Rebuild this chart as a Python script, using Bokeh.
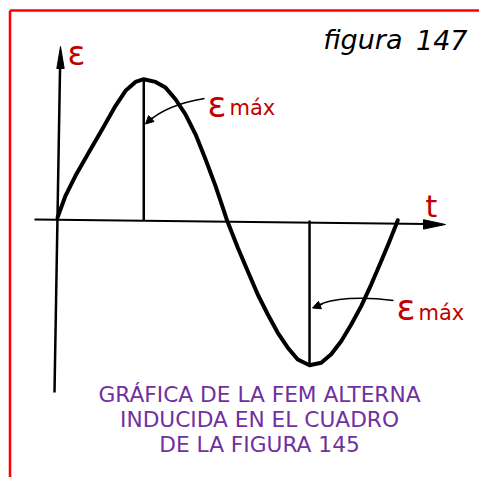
import numpy as np
from bokeh.plotting import figure
from bokeh.models import Range1d, Label, Arrow, NormalHead
from bokeh.embed import file_html
from bokeh.resources import INLINE

# ---- data: time in electrical degrees, emf as fraction of its maximum
t_deg = [0.0, 8.4, 18.9, 32.9, 47.1, 61.1, 71.6, 82.1, 90.8, 103.2, 113.7, 124.2,
         134.7, 145.3, 155.8, 166.3, 173.4, 178.6, 189.8, 200.3, 210.8, 221.4,
         231.9, 242.4, 252.9, 265.3, 277.6, 288.1, 298.6, 309.2, 319.7, 330.2,
         340.7, 349.5, 356.5, 358.2]
emf = [0.02, 0.174, 0.315, 0.479, 0.643, 0.808, 0.913, 0.976, 0.995, 0.976, 0.936, 0.854,
       0.748, 0.607, 0.431, 0.244, 0.103, -0.002, -0.192, -0.357, -0.521, -0.662,
       -0.791, -0.896, -0.979, -1.019, -1.002, -0.942, -0.850, -0.732, -0.603, -0.451,
       -0.287, -0.146, -0.028, 0.002]

title_word = "figura"
title_number = "147"
y_label = "ε"
x_label = "t"
max_symbol = "ε"
max_sub = "máx"
caption = ["GRÁFICA DE LA FEM ALTERNA", "INDUCIDA EN EL CUADRO", "DE LA FIGURA 145"]

# ---- layout (page pixels; the figure sits at the page origin)
W, H = 479, 477
M = 0
X0, Y0 = 57, 220      # page position of the origin
SX, SY = 0.95, 142    # px per degree, px per unit emf
TEXT_DY = -9          # baseline correction for labels

def tx(X):
    return (X - X0) / SX

def ey(Y):
    return (Y0 - Y) / SY

RED = "#C00000"
PURPLE = "#7030A0"
FONT = "DejaVu Sans"

p = figure(width=W, height=H, x_range=Range1d(tx(M), tx(M + W)),
           y_range=Range1d(ey(M + H), ey(M)), output_backend="svg",
           toolbar_location=None, min_border=0, x_axis_type=None, y_axis_type=None,
           outline_line_color=None, background_fill_color="white",
           border_fill_color="white")
p.xgrid.visible = False
p.ygrid.visible = False

# red frame (left and top)
p.line([tx(9.5), tx(9.5)], [ey(10), ey(480)], color="#FF0000", line_width=2.5)
p.line([tx(9.5), tx(480)], [ey(10), ey(10)], color="#FF0000", line_width=2.5)

# axes
p.line([tx(34), tx(426)], [ey(219), ey(223.5)], color="black", line_width=2)
p.patch([tx(445), tx(423), tx(423)], [ey(224), ey(219.2), ey(228.6)], color="black")
p.line([tx(54), tx(59.6)], [ey(392), ey(64)], color="black", line_width=2.5)
p.patch([tx(60), tx(56.3), tx(63.7)], [ey(46), ey(68), ey(68)], color="black")

# curve
p.line(t_deg, emf, color="black", line_width=4, line_join="round", line_cap="round")

# vertical lines at maximum and minimum
i_max = int(np.argmax(emf))
i_min = int(np.argmin(emf))
p.segment(x0=[t_deg[i_max], t_deg[i_min]], y0=[0, 0],
          x1=[t_deg[i_max], t_deg[i_min]], y1=[emf[i_max], emf[i_min]],
          color="black", line_width=2.5)

# annotation arrows
p.bezier(x0=[tx(204), tx(393)], y0=[ey(98), ey(300)],
         x1=[tx(148), tx(316)], y1=[ey(121), ey(305.5)],
         cx0=[tx(180), tx(362)], cy0=[ey(102), ey(296)],
         cx1=[tx(160), tx(332)], cy1=[ey(110), ey(297)],
         line_color="black", line_width=1.6)
for (xs, ys, xe, ye) in [(152, 117, 145, 123.5), (322, 303.5, 312, 307.5)]:
    p.add_layout(Arrow(end=NormalHead(size=8, fill_color="black", line_color="black", line_width=1),
                       x_start=tx(xs), y_start=ey(ys), x_end=tx(xe), y_end=ey(ye),
                       line_width=1.5, line_color="black"))

# texts
def lab(x, y, text, size, color, align="left", style="normal"):
    p.add_layout(Label(x=tx(x), y=ey(y + TEXT_DY), text=text, text_font=FONT,
                       text_font_size=size, text_color=color, text_align=align,
                       text_baseline="alphabetic", text_font_style=style))

lab(402, 48, title_word, "27px", "black", align="right", style="italic")
lab(467, 48, title_number, "27px", "black", align="right", style="italic")
lab(67, 62, y_label, "33px", RED)
lab(425, 215, x_label, "30px", RED)
lab(207, 113, max_symbol, "35px", RED)
lab(229, 116, max_sub, "21px", RED)
lab(396, 316, max_symbol, "35px", RED)
lab(418, 321, max_sub, "21px", RED)
for k, line in enumerate(caption):
    lab(259, 403 + 25 * k, line, "21.7px", PURPLE, align="center")

open("out.html", "w").write(file_html(p, INLINE))
